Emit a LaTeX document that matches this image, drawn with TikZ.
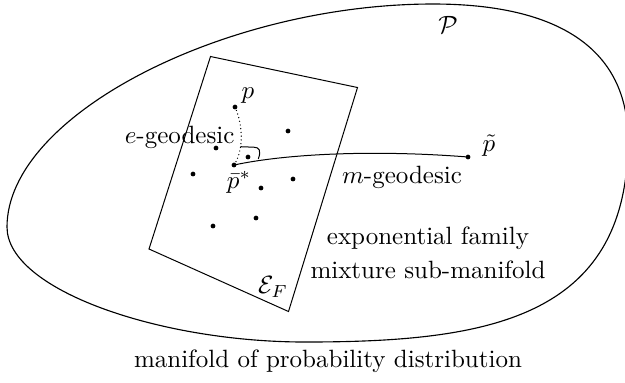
\documentclass[tikz,border=0pt]{standalone}
\begin{document}
\begin{tikzpicture}[x=0.4pt,y=-0.4pt,
  dot/.style={circle,fill=black,inner sep=0pt,minimum size=1.9pt},
  lbl/.style={inner sep=0pt},
  edotted/.style={line width=0.55pt,line cap=round,dash pattern=on 0pt off 1.5pt}]
\useasboundingbox (0,0) rectangle (625,382);
% outer manifold
\coordinate (bw) at (7,227);
\coordinate (bt) at (433,4);
\coordinate (be) at (628,140);
\coordinate (bb) at (305,342);
\draw[line width=0.45pt] (bw) .. controls (7,115) and (225,4) .. (bt)
  .. controls (560,4) and (628,50) .. (be)
  .. controls (628,320) and (485,342) .. (bb)
  .. controls (160,342) and (7,290) .. (bw) -- cycle;
% sub-manifold
\coordinate (q1) at (210.5,56.5);
\coordinate (q2) at (357.5,87.5);
\coordinate (q3) at (288.5,311.5);
\coordinate (q4) at (149,249);
\draw (q1) -- (q2) -- (q3) -- (q4) -- cycle;
% points
\node[dot] (p) at (235,107) {};
\node[dot] (pbar) at (234,165) {};
\node[dot] (pt) at (468,157) {};
\node[dot] (d1) at (288,131) {};
\node[dot] (d2) at (216,148) {};
\node[dot] (d3) at (248,157) {};
\node[dot] (d4) at (193,174) {};
\node[dot] (d5) at (293,179) {};
\node[dot] (d6) at (261,188) {};
\node[dot] (d7) at (256,218) {};
\node[dot] (d8) at (213,226) {};
% geodesics
\draw[edotted] (p.center) .. controls (243,125) and (244,150) .. (pbar.center);
\draw (pbar.center) .. controls (290,153) and (380,150) .. (pt.center);
% right angle marker
\coordinate (r1) at (240.5,146.7);
\coordinate (r2) at (258.3,159);
\draw (r1) -- (254,147.2) .. controls (259,147.4) and (261.5,150) .. (r2);
% labels
\node[lbl] (lp) at (248,96) {$p$};
\node[lbl] (lpbar) at (239,182) {$\bar{p}^*$};
\node[lbl] (lpt) at (489,146) {$\tilde{p}$};
\node[lbl,anchor=base east] (le) at (235,143) {$e$-geodesic};
\node[lbl] (lm) at (402,177) {$m$-geodesic};
\node[lbl] (lexp) at (428,238) {exponential family};
\node[lbl] (lmix) at (428,270) {mixture sub-manifold};
\node[lbl] (lE) at (273,287) {$\mathcal{E}_F$};
\node[lbl] (lP) at (448,25) {$\mathcal{P}$};
\node[lbl] (lman) at (328,361) {manifold of probability distribution};
\end{tikzpicture}
\end{document}
